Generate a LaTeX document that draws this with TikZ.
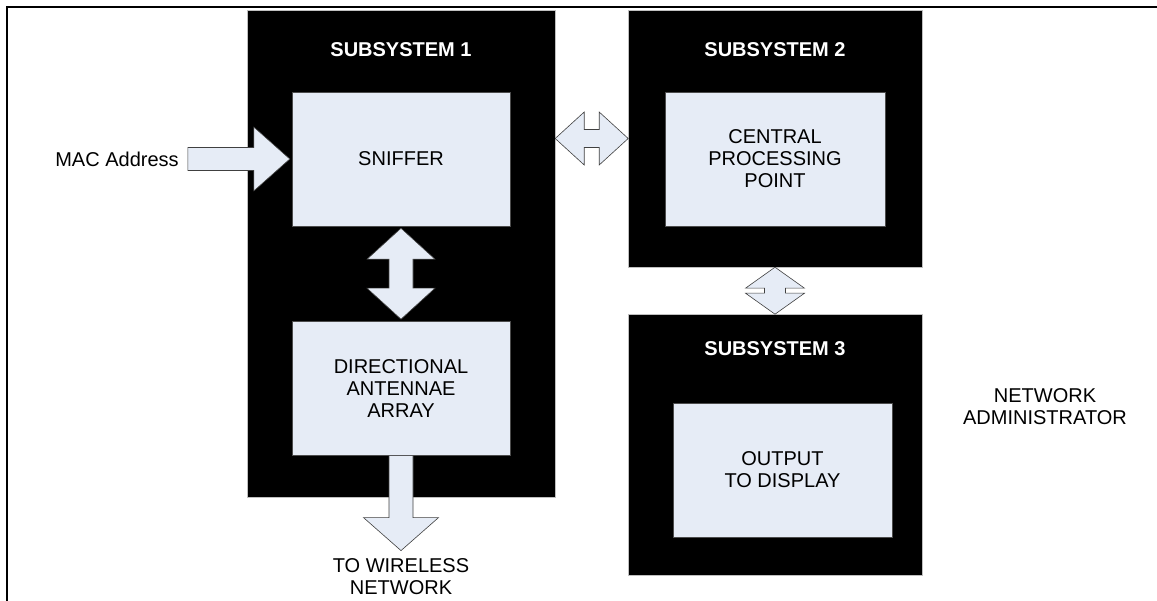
\documentclass[tikz,border=0pt]{standalone}
\usepackage{fontspec}
\setmainfont{Liberation Sans}
\usepackage{xcolor}
\definecolor{paleblue}{RGB}{230,236,246}
\usepackage{tikz}
\usetikzlibrary{positioning, calc}

\begin{document}
\begin{tikzpicture}[
    x=1pt, y=-1pt,
    font=\fontsize{20}{22}\selectfont,
    sysbox/.style={draw=black!25, fill=black, rectangle, minimum width=294pt, inner sep=0pt},
    unitnode/.style={draw=black!70, fill=paleblue, rectangle, minimum width=219pt, minimum height=134pt, align=center, inner sep=0pt},
    titlenode/.style={text=white, font=\fontsize{20}{22}\selectfont\bfseries},
    flow/.style={draw=black!75, fill=paleblue, line width=0.6pt, line join=miter},
    plain/.style={align=center}
  ]

  \useasboundingbox (0,0) rectangle (1157,601);
  % page frame
  \draw[line width=2.6pt] (7,601) -- (7,7) -- (1157,7);

  % subsystem blocks
  \node (sys1) [sysbox, minimum width=308pt, minimum height=487pt] at (401,253.5) {};
  \node (sys2) [sysbox, minimum height=257pt] at (775,138.5) {};
  \node (sys3) [sysbox, minimum height=261pt] at (775,444.5) {};

  \node (title1) [titlenode] at ($(sys1.north)+(0,40)$) {SUBSYSTEM 1};
  \node (title2) [titlenode] at ($(sys2.north)+(0,40)$) {SUBSYSTEM 2};
  \node (title3) [titlenode] at ($(sys3.north)+(0,35)$) {SUBSYSTEM 3};

  % units inside the blocks
  \node (sniffer) [unitnode, minimum width=218pt] at (401,159) {SNIFFER};
  \node (dir_ant) [unitnode, minimum width=218pt, below=95pt of sniffer] {DIRECTIONAL\\ANTENNAE\\ARRAY};
  \node (cpp) [unitnode, minimum width=220pt] at (775,159) {CENTRAL\\PROCESSING\\POINT};
  \node (disp) [unitnode] at (782.5,470) {OUTPUT\\TO DISPLAY};

  % outside labels
  \node (mac) at (117,159) {MAC Address};
  \node (wireless) [plain] at (401,577) {TO WIRELESS\\NETWORK};
  \node (netadmin) [plain] at (1045,407) {NETWORK\\ADMINISTRATOR};

  % MAC address into the sniffer
  \draw[flow] ($(sniffer.west)+(-2,0)$) -- ++(-36,-32) -- ++(0,20.5) -- ++(-66,0) -- ++(0,23) -- ++(66,0) -- ++(0,20.5) -- cycle;

  % sniffer <-> antenna array
  \draw[flow] ($(sniffer.south)+(0,2)$) -- ++(34,31) -- ++(-22,0) -- ++(0,29) -- ++(22,0) -- ++(-34,31) -- ++(-34,-31) -- ++(22,0) -- ++(0,-29) -- ++(-22,0) -- cycle;

  % antenna array out to the network
  \draw[flow] ($(dir_ant.south)+(12,0)$) -- ++(0,62) -- ++(25.5,0) -- ++(-37.5,33) -- ++(-37.5,-33) -- ++(25.5,0) -- ++(0,-62) -- cycle;

  % subsystem 1 <-> subsystem 2
  \draw[flow] (sys1.east |- sys2.center) -- ++(29,-26.5) -- ++(0,17.5) -- ++(15,0) -- ++(0,-17.5) -- ++(29,26.5) -- ++(-29,26.5) -- ++(0,-17.5) -- ++(-15,0) -- ++(0,17.5) -- cycle;

  % subsystem 2 <-> subsystem 3
  \draw[flow] (sys2.south) -- ++(29.5,21) -- ++(-19,0) -- ++(0,5) -- ++(19,0) -- ++(-29.5,21) -- ++(-29.5,-21) -- ++(19,0) -- ++(0,-5) -- ++(-19,0) -- cycle;

\end{tikzpicture}
\end{document}
